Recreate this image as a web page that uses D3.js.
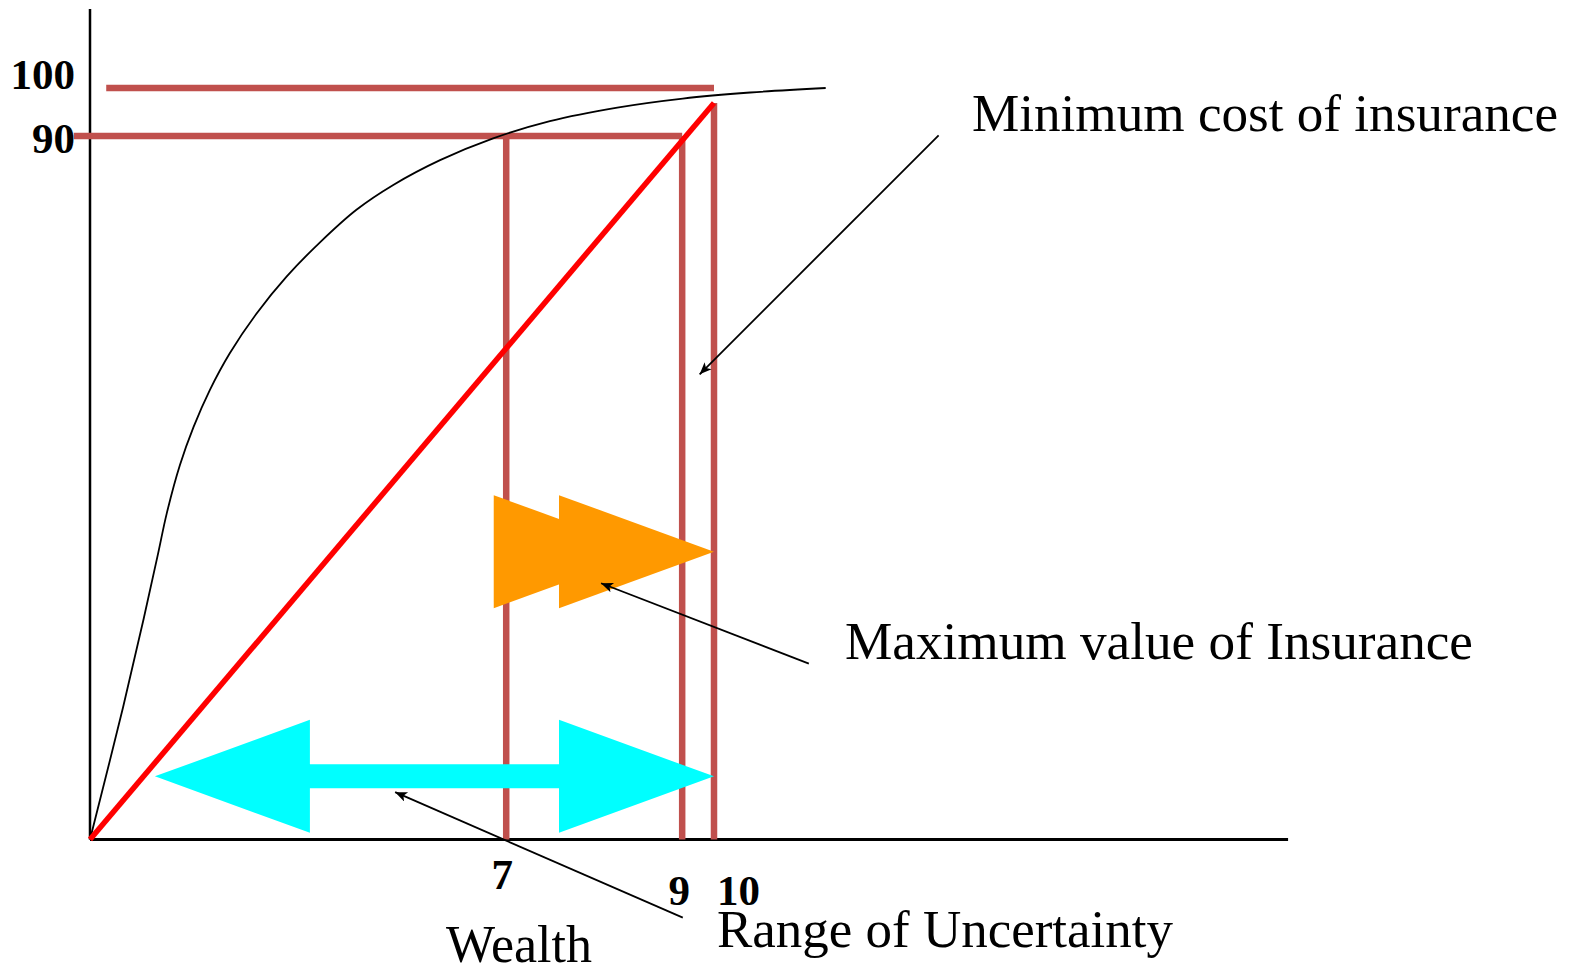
<!DOCTYPE html>
<html><head><meta charset="utf-8">
<script src="https://cdn.jsdelivr.net/npm/d3@7"></script>
<style>html,body{margin:0;padding:0;background:#fff;}svg{display:block;}</style>
</head><body>
<svg id="chart" width="1574" height="968"></svg>
<script>
// ---- data (schematic units: wealth on x, utility on y) ----
const utilityCurveX = [0, 0.53, 0.85, 1.09, 1.23, 1.44, 1.66, 1.92, 2.24, 2.67, 3.15, 3.69, 4.27, 4.86, 5.61, 6.46, 7.37, 8.45, 9.50, 10.58, 11.79];
const utilityCurveY = [0, 17.6, 29.0, 38.0, 43.4, 49.8, 54.9, 59.8, 64.7, 70.0, 74.9, 79.5, 83.8, 87.1, 90.4, 93.3, 95.6, 97.4, 98.6, 99.4, 100.0];
const linearX = [0, 10];
const linearY = [0, 98];
const levelValues = [100, 93.6];
const levelLabels = ["100", "90"];
const levelStarts = [0.26, -0.26];
const levelEnds = [10, 9.49];
const wealthValues = [6.67, 9.49, 10];
const wealthLabels = ["7", "9", "10"];
const wealthTops = [93.6, 93.6, 98];
const rangeArrow = [1.04, 10.0];   // x from..to
const rangeArrowY = 8.4;
const ffArrow = [6.47, 10.0];      // fast-forward (orange)
const ffArrowY = 38.3;
const annFromX = [13.6, 11.52, 9.50];
const annFromY = [93.7, 23.4, -10.4];
const annToX = [9.77, 8.19, 4.89];
const annToY = [61.9, 34.1, 6.3];
const annTexts = ["Minimum cost of insurance", "Maximum value of Insurance", "Range of Uncertainty"];
const xAxisTitle = "Wealth";
const xMax = 19.2, yMax = 110.5;

// ---- scales ----
const x = d3.scaleLinear().domain([0, 10]).range([90, 714]);
const y = d3.scaleLinear().domain([0, 100]).range([839.5, 88]);

const svg = d3.select("#chart");
const serif = "'Liberation Serif','Times New Roman',serif";
const brown = "#C0504D";

svg.append("defs").append("marker")
  .attr("id", "ah").attr("markerUnits", "userSpaceOnUse")
  .attr("markerWidth", 14).attr("markerHeight", 12)
  .attr("refX", 12).attr("refY", 5).attr("orient", "auto")
  .append("path").attr("d", "M0,0 L12,5 L0,10 L3,5 Z").attr("fill", "#000");

// axes
svg.append("line").attr("x1", x(0)).attr("x2", x(0)).attr("y1", y(0)).attr("y2", y(yMax))
  .attr("stroke", "#000").attr("stroke-width", 2.5);
svg.append("line").attr("x1", x(0)).attr("x2", x(xMax)).attr("y1", y(0)).attr("y2", y(0))
  .attr("stroke", "#000").attr("stroke-width", 3);

// horizontal level lines
levelValues.forEach((v, i) => {
  svg.append("line").attr("x1", x(levelStarts[i])).attr("x2", x(levelEnds[i]))
    .attr("y1", y(v)).attr("y2", y(v)).attr("stroke", brown).attr("stroke-width", 6.5);
  svg.append("text").attr("x", 75).attr("y", y(v) + (i === 0 ? 1 : 17))
    .attr("text-anchor", "end").attr("font-family", serif).attr("font-weight", "bold")
    .attr("font-size", 43).text(levelLabels[i]);
});

// vertical wealth lines
wealthValues.forEach((v, i) => {
  svg.append("line").attr("x1", x(v)).attr("x2", x(v)).attr("y1", y(0)).attr("y2", y(wealthTops[i]))
    .attr("stroke", brown).attr("stroke-width", 6.5);
});
const tickDx = [-4, -3, 3];
const tickAnchor = ["middle", "middle", "start"];
const tickDy = [49, 65, 65];
wealthValues.forEach((v, i) => {
  svg.append("text").attr("x", x(v) + tickDx[i]).attr("y", y(0) + tickDy[i])
    .attr("text-anchor", tickAnchor[i]).attr("font-family", serif).attr("font-weight", "bold")
    .attr("font-size", 43).text(wealthLabels[i]);
});

// utility curve
const curvePts = utilityCurveX.map((d, i) => [x(d), y(utilityCurveY[i])]);
svg.append("path").attr("d", d3.line().curve(d3.curveCatmullRom.alpha(0.5))(curvePts))
  .attr("fill", "none").attr("stroke", "#000").attr("stroke-width", 1.8);

// linear red line
svg.append("path").attr("d", d3.line()(linearX.map((d, i) => [x(d), y(linearY[i])])))
  .attr("fill", "none").attr("stroke", "#FF0000").attr("stroke-width", 5.5);

// shapes
const headL = 155, headH = 56.5, shaftH = 12;
{
  const x0 = x(rangeArrow[0]), x1 = x(rangeArrow[1]), cy = y(rangeArrowY);
  const pts = [[x0, cy], [x0 + headL, cy - headH], [x0 + headL, cy - shaftH], [x1 - headL, cy - shaftH],
    [x1 - headL, cy - headH], [x1, cy], [x1 - headL, cy + headH], [x1 - headL, cy + shaftH],
    [x0 + headL, cy + shaftH], [x0 + headL, cy + headH]];
  svg.append("polygon").attr("points", pts.map(p => p.join(",")).join(" ")).attr("fill", "#00FFFF");
}
{
  const x0 = x(ffArrow[0]), x1 = x(ffArrow[1]), cy = y(ffArrowY);
  const b2 = x1 - headL;
  [[x0, x0 + headL], [b2, x1]].forEach(([b, t]) => {
    svg.append("polygon").attr("points", [[b, cy - headH], [t, cy], [b, cy + headH]].map(p => p.join(",")).join(" "))
      .attr("fill", "#FF9900");
  });
}

// annotation arrows
annFromX.forEach((d, i) => {
  svg.append("line").attr("x1", x(d)).attr("y1", y(annFromY[i])).attr("x2", x(annToX[i])).attr("y2", y(annToY[i]))
    .attr("stroke", "#000").attr("stroke-width", 1.8).attr("marker-end", "url(#ah)");
});

// annotation texts
const annTX = [972, 845, 717], annTY = [131, 659, 947], annW = [586, 628, 456];
annTexts.forEach((t, i) => {
  svg.append("text").attr("x", annTX[i]).attr("y", annTY[i]).attr("font-family", serif)
    .attr("font-size", 52).attr("textLength", annW[i]).attr("lengthAdjust", "spacingAndGlyphs").text(t);
});
svg.append("text").attr("x", 446).attr("y", 962).attr("font-family", serif)
  .attr("font-size", 52).attr("textLength", 146).attr("lengthAdjust", "spacingAndGlyphs").text(xAxisTitle);
</script>
</body></html>
